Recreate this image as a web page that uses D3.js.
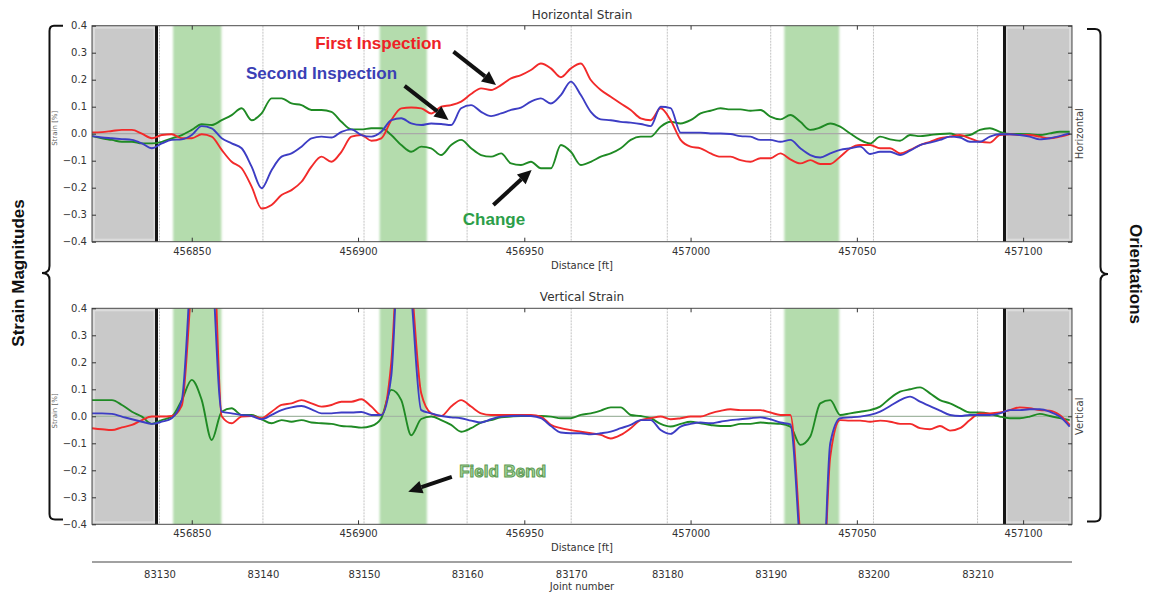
<!DOCTYPE html>
<html>
<head>
<meta charset="utf-8">
<script src="https://cdn.jsdelivr.net/npm/d3@7"></script>
<style>
  body { margin: 0; background: #fff; }
  svg { display: block; }
</style>
</head>
<body>
<svg id="chart" width="1151" height="598"></svg>
<script>
// Inspection stations, every 3 ft along the line
const distance = d3.range(456820, 457115, 3);

// Horizontal strain [%]
const hFirst = [0.005,0.006,0.01,0.014,0.014,0.0,-0.017,-0.005,-0.002,-0.017,
  -0.017,-0.002,-0.011,-0.06,-0.104,-0.128,-0.196,-0.277,-0.264,-0.227,
  -0.209,-0.178,-0.122,-0.085,-0.104,-0.067,-0.011,-0.005,-0.026,-0.017,
  0.05,0.094,0.097,0.094,0.075,0.1,0.106,0.119,0.147,0.168,
  0.162,0.18,0.205,0.217,0.236,0.26,0.242,0.209,0.242,0.26,
  0.199,0.162,0.137,0.112,0.088,0.057,0.05,0.094,0.05,-0.023,
  -0.048,-0.054,-0.073,-0.085,-0.085,-0.098,-0.104,-0.091,-0.091,-0.073,
  -0.095,-0.11,-0.098,-0.112,-0.112,-0.085,-0.054,-0.042,-0.042,-0.054,
  -0.054,-0.073,-0.06,-0.042,-0.03,-0.017,-0.011,-0.005,-0.017,-0.03,
  -0.033,-0.005,-0.002,-0.005,-0.005,-0.011,-0.017,-0.011,-0.001];
const hSecond = [-0.009,-0.014,-0.017,-0.02,-0.023,-0.036,-0.054,-0.036,-0.023,-0.021,
  -0.005,0.028,0.02,-0.017,-0.036,-0.054,-0.122,-0.202,-0.135,-0.085,
  -0.073,-0.048,-0.017,-0.011,-0.014,0.007,0.016,-0.005,-0.011,0.007,
  0.05,0.057,0.038,0.032,0.038,0.036,0.032,0.094,0.106,0.081,
  0.065,0.075,0.088,0.097,0.119,0.131,0.112,0.143,0.193,0.143,
  0.081,0.053,0.05,0.044,0.041,0.036,0.028,0.1,0.095,0.004,
  0.004,0.004,0.001,0.001,-0.001,-0.009,-0.011,-0.023,-0.023,-0.03,
  -0.023,-0.054,-0.079,-0.088,-0.073,-0.06,-0.054,-0.048,-0.075,-0.067,
  -0.067,-0.079,-0.063,-0.042,-0.033,-0.023,-0.011,-0.014,-0.03,-0.03,
  -0.011,-0.002,-0.002,-0.005,-0.011,-0.021,-0.017,-0.009,0.001];
const hChange = [-0.009,-0.017,-0.023,-0.03,-0.03,-0.036,-0.036,-0.03,-0.017,-0.005,
  0.014,0.035,0.032,0.05,0.069,0.094,0.05,0.075,0.131,0.131,
  0.112,0.106,0.088,0.088,0.081,0.044,0.016,0.016,0.02,0.02,
  -0.005,-0.042,-0.067,-0.048,-0.054,-0.079,-0.042,-0.023,-0.054,-0.079,
  -0.085,-0.073,-0.11,-0.116,-0.104,-0.128,-0.128,-0.042,-0.067,-0.116,
  -0.104,-0.085,-0.073,-0.054,-0.023,-0.011,-0.011,0.026,0.044,0.038,
  0.05,0.075,0.085,0.094,0.09,0.09,0.085,0.088,0.063,0.053,
  0.069,0.044,0.014,0.023,0.038,0.026,0.001,-0.023,-0.036,-0.011,
  -0.021,-0.026,-0.005,-0.009,-0.005,-0.001,0.001,-0.009,-0.005,0.014,
  0.02,0.007,-0.001,-0.001,-0.002,-0.005,0.001,0.007,0.007];

// Vertical strain [%]
const vFirst = [-0.044,-0.048,-0.051,-0.041,-0.032,-0.014,-0.001,-0.001,0.001,0.04,
  0.5,0.9,0.8,0.0,-0.026,-0.001,0.001,-0.007,0.017,0.042,
  0.048,0.06,0.048,0.036,0.042,0.054,0.054,0.063,0.036,0.005,
  0.2,0.8,0.5,0.085,0.011,0.001,0.036,0.06,0.036,0.011,
  0.005,0.005,0.005,0.005,0.005,-0.001,-0.032,-0.044,-0.051,-0.057,
  -0.063,-0.069,-0.082,-0.069,-0.044,-0.014,-0.007,-0.001,-0.011,-0.007,
  -0.001,-0.001,0.011,0.02,0.026,0.023,0.023,0.023,0.014,0.005,
  0.005,-0.45,-1.0,-0.9,-0.15,-0.014,-0.016,-0.016,-0.02,-0.016,
  -0.02,-0.028,-0.028,-0.044,-0.048,-0.036,-0.053,-0.044,-0.014,0.011,
  0.011,0.014,0.023,0.033,0.03,0.023,0.021,0.005,-0.032];
const vSecond = [0.011,0.011,0.009,-0.001,-0.011,-0.02,-0.028,-0.02,-0.007,0.06,
  0.6,1.0,0.6,0.017,0.011,0.005,0.001,-0.011,0.005,0.023,
  0.033,0.038,0.026,0.011,0.011,0.014,0.014,0.016,0.005,0.005,
  0.15,0.8,0.45,0.023,0.011,0.001,-0.004,-0.007,-0.016,-0.023,
  -0.011,-0.001,0.001,0.002,0.001,-0.007,-0.036,-0.06,-0.063,-0.063,
  -0.067,-0.063,-0.057,-0.044,-0.032,-0.014,-0.014,-0.051,-0.065,-0.038,
  -0.028,-0.023,-0.026,-0.02,-0.014,-0.011,-0.007,-0.004,-0.011,-0.023,
  -0.03,-0.5,-1.0,-0.9,-0.1,-0.007,-0.004,-0.001,0.005,0.017,
  0.038,0.06,0.073,0.054,0.038,0.021,0.005,0.001,0.005,0.005,
  0.005,0.011,0.023,0.023,0.026,0.026,0.017,-0.001,-0.038];
const vChange = [0.06,0.06,0.06,0.042,0.017,-0.001,-0.028,-0.014,-0.001,0.06,
  0.135,0.06,-0.088,0.017,0.03,0.005,0.005,-0.011,-0.026,-0.014,
  -0.02,-0.014,-0.023,-0.026,-0.028,-0.036,-0.038,-0.042,-0.036,-0.007,
  0.098,0.06,-0.07,-0.01,-0.001,-0.014,-0.032,-0.057,-0.044,-0.023,
  -0.014,-0.004,-0.001,0.001,0.001,0.001,-0.001,-0.007,-0.007,0.005,
  0.011,0.021,0.033,0.033,0.005,0.001,-0.007,-0.028,-0.038,-0.028,
  -0.02,-0.026,-0.032,-0.036,-0.036,-0.028,-0.028,-0.023,-0.026,-0.028,
  -0.038,-0.106,-0.075,0.048,0.06,0.005,0.011,0.017,0.023,0.036,
  0.067,0.091,0.1,0.107,0.085,0.06,0.048,0.03,0.014,0.014,
  0.009,-0.001,-0.007,-0.007,-0.001,0.009,0.001,-0.007,-0.014];

// Joint numbers and where each joint starts along the line [ft]
const jointNumbers  = [83130, 83140, 83150, 83160, 83170, 83180, 83190, 83200, 83210];
const jointDistance = [456840.3, 456871.4, 456901.8, 456932.8, 456964.1, 456993.0, 457024.1, 457055.0, 457086.3];

const distanceTicks = [456850, 456900, 456950, 457000, 457050, 457100];
const strainTicks = [-0.4, -0.3, -0.2, -0.1, 0.0, 0.1, 0.2, 0.3, 0.4];
const distanceDomain = [456820, 457114.7];
const strainDomain = [-0.4, 0.4];

// Field bends [ft] and the limits of the analysed section [ft]
const fieldBends = [[456844.4, 456858.9], [456906.5, 456920.7], [457028.2, 457044.7]];
const sectionLimits = [456839.4, 457094.4];

const colors = { first: "#f22a2a", second: "#3d3dc4", change: "#1f8a24" };

const svg = d3.select("#chart");
const fontAxis = "'DejaVu Sans', sans-serif";
const fontNote = "'Liberation Sans', Arial, sans-serif";

const plotLeft = 92, plotRight = 1072, panelH = 216;
const x = d3.scaleLinear().domain(distanceDomain).range([plotLeft, plotRight]);

const defs = svg.append("defs");
defs.append("filter").attr("id", "soft").attr("x", "-20%").attr("width", "140%")
  .append("feGaussianBlur").attr("stdDeviation", 1.1);

const panels = [
  { title: "Horizontal Strain", side: "Horizontal", top: 25.7, first: hFirst, second: hSecond, change: hChange },
  { title: "Vertical Strain",   side: "Vertical",   top: 308.3, first: vFirst, second: vSecond, change: vChange }
];
const yScales = [];

panels.forEach((p, i) => {
  const y = d3.scaleLinear().domain(strainDomain).range([panelH, 0]);
  yScales.push(y);
  const g = svg.append("g").attr("transform", `translate(0,${p.top})`);

  const clipId = "plot-clip-" + i;
  defs.append("clipPath").attr("id", clipId)
    .append("rect").attr("x", plotLeft).attr("y", 0)
    .attr("width", plotRight - plotLeft).attr("height", panelH);
  const inner = g.append("g").attr("clip-path", `url(#${clipId})`);

  // section outside the analysed range
  const outside = [[distanceDomain[0], sectionLimits[0]], [sectionLimits[1], distanceDomain[1]]];
  inner.selectAll("rect.outside").data(outside).join("rect")
    .attr("class", "outside")
    .attr("x", d => x(d[0])).attr("y", 0)
    .attr("width", d => x(d[1]) - x(d[0])).attr("height", panelH)
    .attr("fill", "#c9c9c9");
  inner.selectAll("rect.outside-edge").data(outside).join("rect")
    .attr("class", "outside-edge")
    .attr("x", d => x(d[0]) + 2).attr("y", 2)
    .attr("width", d => x(d[1]) - x(d[0]) - 4).attr("height", panelH - 4)
    .attr("fill", "none").attr("stroke", "#dcdcdc").attr("stroke-width", 2);

  // field bends
  inner.append("g").attr("filter", "url(#soft)")
    .selectAll("rect").data(fieldBends).join("rect")
    .attr("x", d => x(d[0])).attr("y", -4)
    .attr("width", d => x(d[1]) - x(d[0])).attr("height", panelH + 8)
    .attr("fill", "#b4dcad");

  // joint grid
  inner.selectAll("line.grid").data(jointDistance).join("line")
    .attr("class", "grid")
    .attr("x1", d => x(d)).attr("x2", d => x(d))
    .attr("y1", 0).attr("y2", panelH)
    .attr("stroke", "#b4b4b4").attr("stroke-width", 0.8)
    .attr("stroke-dasharray", "2,1");

  // zero line
  inner.append("line")
    .attr("x1", plotLeft).attr("x2", plotRight)
    .attr("y1", y(0)).attr("y2", y(0))
    .attr("stroke", i === 0 ? "#a9a9a9" : "#a3b7a3").attr("stroke-width", 1.2);

  // section limits
  inner.selectAll("line.limit").data(sectionLimits).join("line")
    .attr("class", "limit")
    .attr("x1", d => x(d)).attr("x2", d => x(d))
    .attr("y1", 0).attr("y2", panelH)
    .attr("stroke", "#151515").attr("stroke-width", 3);

  // strain series
  const line = d3.line().curve(d3.curveMonotoneX)
    .x((d, j) => x(distance[j])).y(d => y(d));
  [["change", p.change], ["first", p.first], ["second", p.second]].forEach(([key, values]) => {
    inner.append("path").datum(values)
      .attr("d", line)
      .attr("fill", "none")
      .attr("stroke", colors[key])
      .attr("stroke-width", 1.9)
      .attr("stroke-linejoin", "round");
  });

  // frame
  g.append("rect")
    .attr("x", plotLeft).attr("y", 0)
    .attr("width", plotRight - plotLeft).attr("height", panelH)
    .attr("fill", "none").attr("stroke", "#4a4a4a").attr("stroke-width", 1);

  // axes
  const styleAxis = sel => {
    sel.select(".domain").remove();
    sel.selectAll(".tick line").attr("stroke", "#333");
    sel.selectAll(".tick text").attr("fill", "#333")
      .style("font-family", fontAxis).style("font-size", "10px");
  };
  g.append("g").attr("transform", `translate(${plotLeft},0)`)
    .call(d3.axisLeft(y).tickValues(strainTicks).tickSize(-4).tickPadding(5).tickFormat(d3.format(".1f")))
    .call(styleAxis);
  g.append("g").attr("transform", `translate(${plotRight},0)`)
    .call(d3.axisRight(y).tickValues(strainTicks).tickSize(-4).tickFormat(""))
    .call(styleAxis);
  g.append("g").attr("transform", `translate(0,${panelH})`)
    .call(d3.axisBottom(x).tickValues(distanceTicks).tickSize(-4).tickPadding(6).tickFormat(d3.format("d")))
    .call(styleAxis);
  g.append("g")
    .call(d3.axisTop(x).tickValues(distanceTicks).tickSize(-4).tickFormat(""))
    .call(styleAxis);

  // titles and labels
  g.append("text").attr("x", (plotLeft + plotRight) / 2).attr("y", -7)
    .attr("text-anchor", "middle").attr("fill", "#333")
    .style("font-family", fontAxis).style("font-size", "12px").text(p.title);
  g.append("text").attr("x", (plotLeft + plotRight) / 2).attr("y", panelH + 27)
    .attr("text-anchor", "middle").attr("fill", "#333")
    .style("font-family", fontAxis).style("font-size", "10px").text("Distance [ft]");
  g.append("text")
    .attr("transform", `translate(57,${y(0.02)}) rotate(-90)`)
    .attr("text-anchor", "middle").attr("fill", "#666")
    .style("font-family", fontAxis).style("font-size", "7px").text("Strain [%]");
  g.append("text")
    .attr("transform", `translate(1083,${y(0)}) rotate(-90)`)
    .attr("text-anchor", "middle").attr("fill", "#444")
    .style("font-family", fontAxis).style("font-size", "10px").text(p.side);
});

// joint number axis
const jointAxisY = 562;
const jx = d3.scaleLinear().domain(jointNumbers).range(jointDistance.map(d => x(d)));
svg.append("line")
  .attr("x1", plotLeft).attr("x2", plotRight)
  .attr("y1", jointAxisY).attr("y2", jointAxisY)
  .attr("stroke", "#444").attr("stroke-width", 1.2);
svg.append("g").attr("transform", `translate(0,${jointAxisY})`)
  .call(d3.axisBottom(jx).tickValues(jointNumbers).tickSize(0).tickPadding(9).tickFormat(d3.format("d")))
  .call(sel => {
    sel.select(".domain").remove();
    sel.selectAll(".tick text").attr("fill", "#333")
      .style("font-family", fontAxis).style("font-size", "10px");
  });
svg.append("text").attr("x", (plotLeft + plotRight) / 2).attr("y", 590)
  .attr("text-anchor", "middle").attr("fill", "#333")
  .style("font-family", fontAxis).style("font-size", "10px").text("Joint number");

// braces grouping the panels
svg.append("path")
  .attr("d", "M63,25.7 L54,25.7 Q49.5,25.7 49.5,31 L49.5,266 Q49.5,273 42,273 Q49.5,273 49.5,280 L49.5,514 Q49.5,519.5 55,519.5 L63,519.5")
  .attr("fill", "none").attr("stroke", "#111").attr("stroke-width", 2);
svg.append("path")
  .attr("d", "M1087,29 L1095,29 Q1100.5,29 1100.5,35 L1100.5,267 Q1100.5,274 1108,274 Q1100.5,274 1100.5,281 L1100.5,516 Q1100.5,521.5 1095,521.5 L1087,521.5")
  .attr("fill", "none").attr("stroke", "#111").attr("stroke-width", 2);
svg.append("text")
  .attr("transform", "translate(18,273) rotate(-90)")
  .attr("text-anchor", "middle").attr("dominant-baseline", "central")
  .attr("fill", "#111").style("font-family", fontNote).style("font-size", "17px").style("font-weight", "bold")
  .text("Strain Magnitudes");
svg.append("text")
  .attr("transform", "translate(1135,274) rotate(90)")
  .attr("text-anchor", "middle").attr("dominant-baseline", "central")
  .attr("fill", "#111").style("font-family", fontNote).style("font-size", "17px").style("font-weight", "bold")
  .text("Orientations");

// callouts, positioned in distance / strain units
const yTop = yScales[0], yBot = yScales[1];
const topY = v => panels[0].top + yTop(v);
const botY = v => panels[1].top + yBot(v);

function arrow(x1, y1, x2, y2) {
  const ang = Math.atan2(y2 - y1, x2 - x1);
  const len = 14, half = 6.5;
  const bx = x2 - len * Math.cos(ang), by = y2 - len * Math.sin(ang);
  svg.append("line").attr("x1", x1).attr("y1", y1).attr("x2", bx).attr("y2", by)
    .attr("stroke", "#111").attr("stroke-width", 4);
  const px = -Math.sin(ang) * half, py = Math.cos(ang) * half;
  svg.append("path")
    .attr("d", `M${x2},${y2} L${bx + px},${by + py} L${bx - px},${by - py} Z`)
    .attr("fill", "#111");
}

const noteStyle = sel => sel.style("font-family", fontNote).style("font-size", "17px").style("font-weight", "bold");
svg.append("text").attr("x", x(456887.1)).attr("y", topY(0.312))
  .attr("fill", "#ee2226").call(noteStyle).text("First Inspection");
svg.append("text").attr("x", x(456866.3)).attr("y", topY(0.2015))
  .attr("fill", "#3b3fb5").call(noteStyle).text("Second Inspection");
svg.append("text").attr("x", x(456931.5)).attr("y", topY(-0.338))
  .attr("fill", "#2b9e48").call(noteStyle).text("Change");
svg.append("text").attr("x", x(456930.4)).attr("y", botY(-0.224))
  .attr("fill", "#a6d79b").attr("stroke", "#5f9a55").attr("stroke-width", 1)
  .call(noteStyle).text("Field Bend");

arrow(x(456928.7), topY(0.304), x(456941.5), topY(0.180));
arrow(x(456914.0), topY(0.177), x(456927.2), topY(0.051));
arrow(x(456940.7), topY(-0.264), x(456952.2), topY(-0.134));
arrow(x(456928.2), botY(-0.224), x(456915.1), botY(-0.279));
</script>
</body>
</html>
